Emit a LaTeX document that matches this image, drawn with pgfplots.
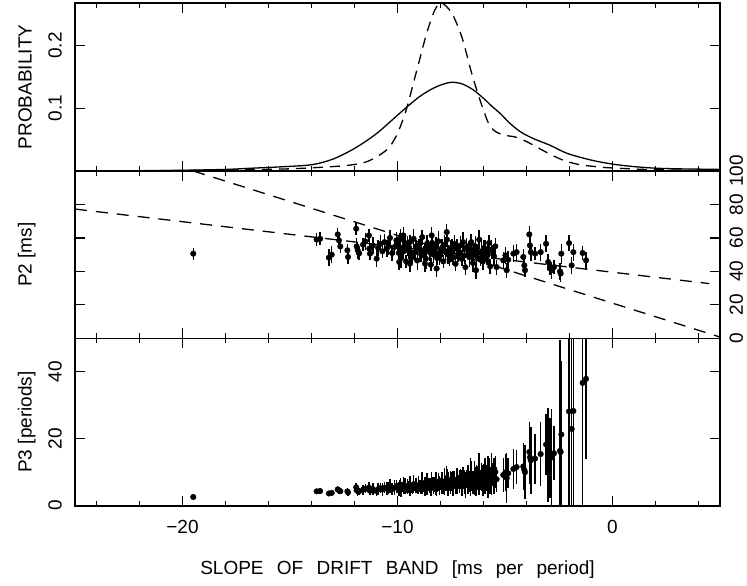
\documentclass[border=0pt]{standalone}
\usepackage{pgfplots}
\pgfplotsset{compat=1.18}
\usepackage{pgfplotstable}
\usepackage{fontspec}
\setmainfont{Liberation Sans}

\pgfplotstableread{
x p2 e2 p3 e3
-19.50 50.6 3.6 2.59 0.1
-13.76 59.0 4.0 4.29 0.7
-13.60 59.5 4.0 4.38 0.9
-13.19 48.2 5.0 3.65 0.8
-13.06 50.0 5.0 3.83 0.9
-12.78 62.1 4.0 4.86 1.0
-12.72 58.5 4.0 4.60 1.1
-12.66 54.9 4.0 4.34 0.9
-12.33 52.6 4.0 4.27 1.0
-12.30 48.6 4.0 3.95 1.1
-11.92 65.5 4.0 5.49 1.3
-11.90 54.9 5.0 4.61 1.2
-11.85 52.6 5.0 4.44 1.4
-11.78 50.8 4.0 4.31 1.0
-11.60 56.0 4.0 4.83 1.5
-11.50 58.0 5.0 5.04 1.3
-11.33 61.5 4.0 5.43 1.6
-11.31 53.6 4.0 4.74 1.4
-11.28 50.6 4.0 4.49 1.2
-11.15 55.5 5.0 4.98 1.7
-10.97 47.6 5.0 4.34 1.3
-10.90 54.0 5.0 4.95 1.8
-10.80 56.5 5.0 5.23 1.5
-10.70 52.0 4.0 4.86 1.9
-10.60 57.5 5.0 5.42 1.6
-10.50 53.5 5.0 5.10 2.0
-10.42 55.0 5.0 5.28 1.7
-10.35 60.0 5.0 5.80 2.1
-10.25 51.0 5.0 4.98 1.8
-10.15 54.5 5.0 5.37 2.2
-10.05 58.5 5.0 5.82 1.9
-10.00 56.0 4.5 5.60 1.3
-9.94 51.0 5.5 5.13 1.9
-9.88 59.0 4.0 5.97 1.8
-9.83 48.0 6.0 4.88 2.2
-9.77 54.0 5.0 5.53 1.5
-9.71 52.0 4.5 5.36 1.8
-9.65 57.0 5.5 5.91 2.5
-9.60 46.0 4.0 4.79 1.1
-9.54 55.0 6.0 5.77 2.2
-9.48 52.5 5.0 5.54 1.7
-9.42 57.5 4.5 6.10 2.8
-9.37 49.5 5.5 5.28 1.4
-9.31 48.5 4.0 5.21 1.8
-9.25 59.5 6.0 6.43 2.7
-9.19 51.5 5.0 5.60 1.3
-9.14 54.5 4.5 5.96 2.3
-9.08 46.5 5.5 5.12 1.6
-9.02 55.5 4.0 6.15 2.8
-8.96 53.5 6.0 5.97 1.8
-8.91 50.5 5.0 5.67 2.1
-8.85 60.5 4.5 6.84 3.2
-8.79 49.5 5.5 5.63 1.4
-8.73 52.5 4.0 6.01 2.5
-8.68 47.5 6.0 5.47 1.8
-8.62 56.5 5.0 6.55 3.3
-8.56 54.5 4.5 6.37 1.9
-8.50 51.5 5.5 6.06 2.3
-8.45 44.0 4.0 5.21 2.4
-8.39 57.0 6.0 6.79 1.7
-8.33 50.0 5.0 6.00 2.5
-8.27 53.0 4.5 6.41 2.2
-8.22 55.0 5.5 6.69 3.4
-8.16 48.0 4.0 5.88 1.7
-8.10 58.0 6.0 7.16 2.7
-8.04 49.0 5.0 6.09 2.8
-7.99 51.0 4.5 6.38 1.8
-7.93 54.0 5.5 6.81 3.3
-7.87 46.0 4.0 5.84 2.2
-7.81 56.0 6.0 7.17 4.1
-7.76 52.0 5.0 6.70 2.3
-7.70 59.0 4.5 7.66 3.3
-7.64 50.0 5.5 6.54 3.5
-7.58 47.0 4.0 6.20 1.8
-7.53 53.0 6.0 7.04 3.4
-7.47 54.5 5.0 7.30 2.8
-7.41 48.5 4.5 6.55 3.8
-7.35 56.5 5.5 7.69 2.6
-7.30 44.5 4.0 6.10 2.6
-7.24 53.5 6.0 7.39 3.9
-7.18 50.5 5.0 7.03 2.0
-7.12 51.5 4.5 7.23 3.5
-7.07 55.5 5.5 7.85 3.0
-7.01 47.5 4.0 6.78 3.9
-6.95 57.5 6.0 8.27 3.2
-6.89 49.5 5.0 7.18 3.6
-6.84 42.5 4.5 6.21 3.8
-6.78 54.5 5.5 8.04 2.7
-6.72 52.5 4.0 7.81 4.3
-6.66 48.5 6.0 7.28 3.2
-6.61 56.5 5.0 8.55 5.6
-6.55 50.5 4.5 7.71 3.0
-6.49 45.0 5.5 6.93 3.4
-6.43 53.0 4.0 8.24 5.0
-6.38 55.0 6.0 8.62 2.8
-6.32 49.0 5.0 7.75 4.3
-6.26 51.0 4.5 8.15 3.6
-6.20 59.0 5.5 9.52 6.3
-6.15 47.0 4.0 7.64 2.9
-6.09 52.0 6.0 8.54 4.2
-6.03 46.0 5.0 7.63 4.6
-5.97 54.0 4.5 9.05 3.3
-5.92 53.0 5.5 8.95 5.4
-5.86 48.0 4.0 8.19 3.9
-5.80 50.0 6.0 8.62 6.2
-5.74 57.0 5.0 9.93 4.2
-5.69 43.0 4.5 7.56 4.1
-5.63 53.0 5.5 9.41 6.2
-5.57 52.0 4.0 9.34 3.4
-5.51 49.0 6.0 8.89 5.3
-5.45 55.0 5.0 10.09 4.8
-9.92 45.6 5.0 4.60 1.6
-9.42 44.6 5.0 4.73 1.9
-8.72 44.6 5.0 5.11 2.1
-8.18 41.7 5.0 5.10 2.3
-6.35 40.7 5.0 6.41 3.5
-9.86 60.5 5.0 6.14 2.0
-9.73 61.5 5.0 6.32 2.4
-8.41 61.5 5.0 7.31 2.9
-7.71 63.5 5.0 8.24 3.6
-6.57 57.5 5.0 8.75 4.5
-5.39 42.6 4.5 7.90 3.8
-5.08 46.6 5.0 9.17 5.0
-4.98 49.6 5.0 9.96 5.5
-4.92 40.7 4.5 8.27 7.5
-4.85 47.0 5.0 9.69 4.5
-4.61 50.6 5.0 10.98 6.0
-4.46 51.5 5.0 11.55 5.0
-4.15 48.6 5.0 11.71 7.0
-4.10 43.6 5.0 10.63 6.0
-4.07 40.7 4.0 10.00 8.0
-3.87 62.1 5.0 16.05 9.0
-3.84 55.5 5.0 14.45 8.0
-3.80 51.5 5.0 13.55 10.0
-3.60 50.6 4.0 14.06 7.5
-3.34 51.5 5.0 15.42 9.5
-3.09 56.5 5.0 18.28 9.0
-2.99 45.6 5.0 15.25 14.0
-2.91 41.7 4.0 14.33 12.0
-2.83 40.7 5.0 14.38 14.4
-2.72 42.6 4.0 15.66 8.0
-2.41 38.7 5.0 16.06 16.0
-2.38 50.6 6.0 21.26 22.0
-2.44 40.0 5.0 16.39 33.0
-2.02 56.9 5.0 28.17 45.0
-1.90 43.6 5.0 22.95 40.0
-1.82 51.5 5.0 28.30 40.0
-1.39 51.0 4.0 36.69 40.0
-1.23 46.6 5.0 37.89 24.0
}\data

\pgfplotsset{
  panel/.style={
    scale only axis, width=645pt,
    xmin=-25, xmax=5,
    xtick={-20,-10,0},
    minor xtick={-24,-22,-18,-16,-14,-12,-8,-6,-4,-2,2,4},
    major tick length=10pt, minor tick length=5pt,
    tick align=inside,
    axis line style={line width=1.6pt},
    every tick/.append style={black, line width=1.3pt},
    yticklabel style={rotate=90, inner sep=0pt},
    xticklabel style={inner sep=0pt, anchor=north},
    yticklabel shift=13pt, xticklabel shift=14pt,
    ylabel style={at={(axis description cs:-0.0671,0.5)}, anchor=base},
  },
  pts/.style={only marks, mark=*, mark size=2.8pt, black,
    error bars/.cd, y dir=both, y explicit, error mark=none,
    error bar style={line width=1.5pt, black}},
}

\begin{document}
\fontsize{19}{23}\selectfont
\begin{tikzpicture}
\useasboundingbox (0,0) rectangle (747pt,-586pt);

% top panel
\begin{axis}[panel, at={(75pt,-3pt)}, anchor=north west, height=168pt,
  ymin=0, ymax=0.268, ytick={0.1,0.2}, yticklabels={0.1,0.2},
  yticklabel style={anchor=south}, xticklabels={},
  ylabel={PROBABILITY}]
\addplot[black, line width=1.3pt, smooth] coordinates {
(-25,0.0002) (-22,0.0005) (-20,0.0012) (-18,0.0025) (-16.9,0.0043)
(-15.5,0.0065) (-14,0.010) (-13,0.019) (-12,0.036) (-11,0.059)
(-10,0.089) (-9.5,0.104) (-9,0.118) (-8.5,0.129) (-8,0.137)
(-7.5,0.1415) (-7,0.139) (-6.5,0.130) (-6,0.116) (-5.6,0.103)
(-5.2,0.091) (-4.8,0.077) (-4.3,0.063) (-3.7,0.052) (-2.9,0.041)
(-2.1,0.028) (-1.0,0.0175) (0,0.011) (1,0.007) (2,0.0045)
(3,0.0035) (4,0.003) (5,0.0025)};
\addplot[black, line width=1.3pt, smooth, dash pattern=on 10pt off 7pt] coordinates {
(-25,0.0) (-20,0.0008) (-17,0.002) (-15,0.0035) (-13.5,0.006)
(-12.3,0.009) (-11.5,0.014) (-11,0.022) (-10.6,0.031) (-10.35,0.039)
(-10,0.06) (-9.6,0.097) (-9.1,0.161) (-8.64,0.22) (-8.26,0.257)
(-7.95,0.268) (-7.48,0.252) (-7.01,0.214) (-6.55,0.156) (-6.16,0.113)
(-5.75,0.075) (-5.4,0.062) (-5.0,0.057) (-4.5,0.054) (-4.0,0.047)
(-3.3,0.034) (-2.8,0.025) (-2.2,0.016) (-1.5,0.010) (-0.5,0.006)
(0.5,0.004) (2,0.002) (5,0.0005)};
\end{axis}

% middle panel
\begin{axis}[panel, at={(75pt,-171pt)}, anchor=north west, height=167.3pt,
  ymin=0, ymax=100, ytick={0,20,40,60,80,100},
  yticklabels={0,20,40,60,80,100},
  yticklabel pos=right, ytick pos=both,
  yticklabel style={anchor=north}, yticklabel shift=9.5pt, xticklabels={},
  ylabel={P2 [ms]}]
\addplot[black, line width=1.3pt, dash pattern=on 12pt off 9pt] coordinates {(-19.5,100) (5,0.75)};
\addplot[black, line width=1.3pt, dash pattern=on 12pt off 9pt] coordinates {(-25,77.25) (4.5,32.7)};
\addplot[pts] table[x=x, y=p2, y error=e2] {\data};
\end{axis}

% bottom panel
\begin{axis}[panel, at={(75pt,-338.3pt)}, anchor=north west, height=167.4pt,
  ymin=0, ymax=50, ytick={0,20,40}, yticklabels={0,20,40},
  yticklabel style={anchor=south},
  xticklabels={−20,−10,0},
  ylabel={P3 [periods]},
  xlabel={SLOPE\hspace{0.7em}OF\hspace{0.7em}DRIFT\hspace{0.7em}BAND\hspace{0.7em}[ms\hspace{0.7em}per\hspace{0.7em}period]},
  xlabel style={at={(axis description cs:0.5,-0.41)}, anchor=base}]
\addplot[pts] table[x=x, y=p3, y error=e3] {\data};
\end{axis}
\end{tikzpicture}
\end{document}
